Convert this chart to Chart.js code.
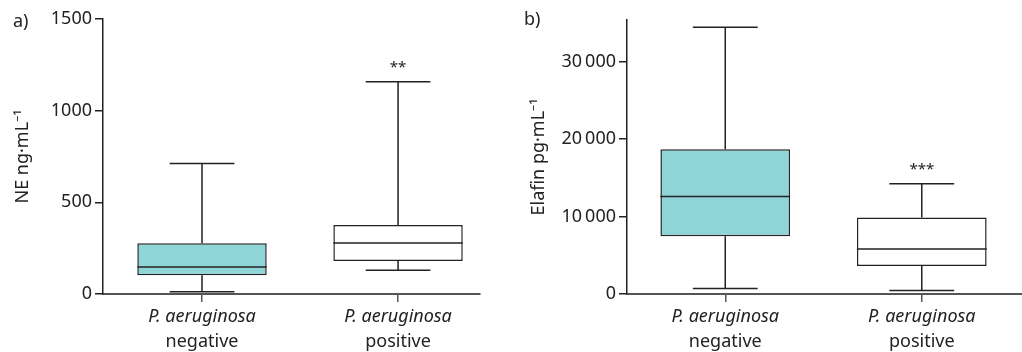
<!DOCTYPE html>
<html>
<head>
<meta charset="utf-8">
<script src="https://cdn.jsdelivr.net/npm/chart.js@4.4.1/dist/chart.umd.min.js"></script>
<style>
    body { margin: 0; background: #fff; width: 1022px; height: 352px; overflow: hidden; position: relative; }
    .panel { position: absolute; top: 0; height: 352px; }
    #wrap-a { left: 0; width: 490px; }
    #wrap-b { left: 490px; width: 532px; }
</style>
</head>
<body>
<div class="panel" id="wrap-a"><canvas id="ne-chart"></canvas></div>
<div class="panel" id="wrap-b"><canvas id="elafin-chart"></canvas></div>
<script>
// Box plot data: min, Q1, median, Q3, max per group
const species = 'P. aeruginosa';
const groups = ['negative', 'positive'];

// a) NE ng/mL
const neMin = [12, 129];
const neQ1 = [102, 180];
const neMedian = [147, 278];
const neQ3 = [277, 377];
const neMax = [712, 1158];
const neTicks = [0, 500, 1000, 1500];
const neStars = ['', '**'];

// b) Elafin pg/mL
const elMin = [700, 440];
const elQ1 = [7470, 3630];
const elMedian = [12610, 5830];
const elQ3 = [18700, 9890];
const elMax = [34450, 14240];
const elTicks = [0, 10000, 20000, 30000];
const elStars = ['', '***'];

const colors = {
    teal: '#8fd4d7',
    white: '#ffffff',
    line: '#222',
    axis: '#555',
    text: '#222'
};
const family = "'Noto Sans', sans-serif";

const fmt = (v) => v >= 10000 ? String(v).replace(/\B(?=(\d{3})+(?!\d))/g, '\u2009') : String(v);

// whiskers, medians, stars, category labels, panel letter
const boxPlot = {
    id: 'boxPlot',
    afterDatasetsDraw(chart, args, opts) {
        const { ctx, scales: { x, y } } = chart;
        const bars = chart.getDatasetMeta(0).data;
        ctx.save();
        ctx.strokeStyle = colors.line;
        ctx.lineWidth = 1.5;
        groups.forEach((g, i) => {
            const cx = x.getPixelForValue(i + 1);
            const half = bars[i].width / 2;
            const cap = half / 2;
            const yMin = y.getPixelForValue(opts.min[i]);
            const yMax = y.getPixelForValue(opts.max[i]);
            const yQ1 = y.getPixelForValue(opts.q1[i]);
            const yQ3 = y.getPixelForValue(opts.q3[i]);
            const yMed = y.getPixelForValue(opts.median[i]);
            ctx.beginPath();
            ctx.moveTo(cx, yQ3); ctx.lineTo(cx, yMax);
            ctx.moveTo(cx - cap, yMax); ctx.lineTo(cx + cap, yMax);
            ctx.moveTo(cx, yQ1); ctx.lineTo(cx, yMin);
            ctx.moveTo(cx - cap, yMin); ctx.lineTo(cx + cap, yMin);
            ctx.moveTo(cx - half, yMed); ctx.lineTo(cx + half, yMed);
            ctx.stroke();

            ctx.fillStyle = colors.text;
            ctx.textAlign = 'center';
            ctx.textBaseline = 'middle';
            if (opts.stars[i]) {
                ctx.font = `15px ${family}`;
                ctx.fillText(opts.stars[i], cx, yMax - 14);
            }
            ctx.font = `italic 18px ${family}`;
            ctx.fillText(species, cx, 317);
            ctx.font = `18px ${family}`;
            ctx.fillText(g, cx, 342);
        });
        ctx.font = `18px ${family}`;
        ctx.textAlign = 'left';
        ctx.fillText(opts.letter, opts.letterX, opts.letterY);
        ctx.restore();
    }
};

function makeChart(id, d) {
    new Chart(document.getElementById(id), {
        type: 'bar',
        data: {
            datasets: [{
                data: groups.map((g, i) => ({ x: i + 1, y: [d.q1[i], d.q3[i]] })),
                backgroundColor: [colors.teal, colors.white],
                borderColor: colors.line,
                borderWidth: 1.5,
                borderSkipped: false,
                barPercentage: 0.66,
                categoryPercentage: 1
            }]
        },
        options: {
            responsive: true,
            maintainAspectRatio: false,
            animation: false,
            layout: { padding: d.padding },
            plugins: {
                legend: { display: false },
                tooltip: { enabled: false },
                boxPlot: d
            },
            scales: {
                x: {
                    type: 'linear',
                    offset: false,
                    min: d.xMin,
                    max: d.xMax,
                    afterBuildTicks: (s) => { s.ticks = groups.map((g, i) => ({ value: i + 1 })); },
                    afterFit: (s) => { s.height = 58; },
                    ticks: { display: false },
                    grid: { offset: false, drawOnChartArea: false, tickLength: 8, color: colors.axis, lineWidth: 1.5 },
                    border: { color: colors.axis, width: 2 }
                },
                y: {
                    min: 0,
                    max: d.yMax,
                    afterBuildTicks: (s) => { s.ticks = d.ticks.map(v => ({ value: v })); },
                    afterFit: (s) => { s.width = d.axisX; },
                    ticks: {
                        color: colors.text,
                        padding: 3,
                        font: { family, size: 18 },
                        callback: fmt
                    },
                    grid: { drawOnChartArea: false, tickLength: 8, color: colors.line, lineWidth: 1.5 },
                    border: { color: colors.line, width: 1.5 },
                    title: {
                        display: true,
                        text: d.title,
                        color: colors.text,
                        font: { family, size: 18 },
                        padding: { top: d.titlePad, bottom: 0 }
                    }
                }
            }
        },
        plugins: [boxPlot]
    });
}

document.addEventListener('DOMContentLoaded', () => {
    Chart.defaults.font.family = family;

    makeChart('ne-chart', {
        min: neMin, q1: neQ1, median: neMedian, q3: neQ3, max: neMax,
        ticks: neTicks, stars: neStars, yMax: 1500,
        xMin: 0.495, xMax: 2.418, axisX: 103,
        padding: { top: 19, right: 10, left: 0, bottom: 0 },
        title: 'NE ng\u00b7mL\u207b\u00b9', titlePad: 12,
        letter: 'a)', letterX: 13, letterY: 22
    });

    makeChart('elafin-chart', {
        min: elMin, q1: elQ1, median: elMedian, q3: elQ3, max: elMax,
        ticks: elTicks, stars: elStars, yMax: 35400,
        xMin: 0.5, xMax: 2.51, axisX: 137,
        padding: { top: 20, right: 0, left: 0, bottom: 0 },
        title: 'Elafin pg\u00b7mL\u207b\u00b9', titlePad: 38,
        letter: 'b)', letterX: 34, letterY: 20
    });
});
</script>
</body>
</html>
